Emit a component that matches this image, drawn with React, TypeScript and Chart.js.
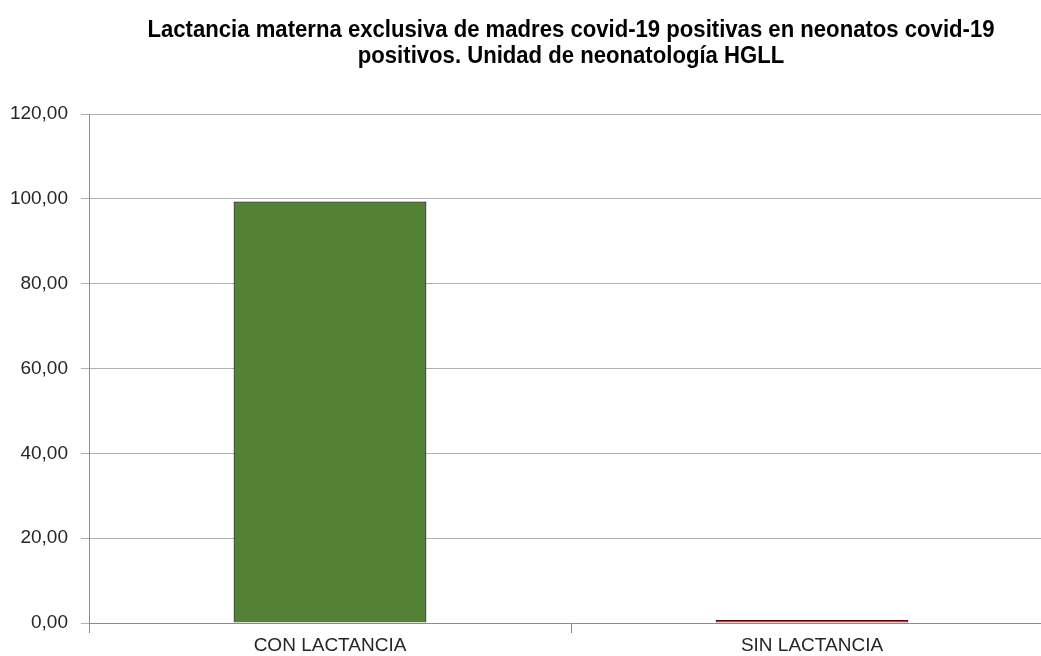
import React, { useEffect, useRef } from "react";
import { Chart, registerables } from "chart.js";

Chart.register(...registerables);

const categories = ["CON LACTANCIA", "SIN LACTANCIA"];
const values = [99.35, 0.7];
const barColors = ["#548235", "#ff0000"];
const titleLines = [
  "Lactancia materna exclusiva de madres covid-19 positivas en neonatos covid-19",
  "positivos. Unidad de neonatología HGLL",
];

const narrowTitle = {
  id: "narrowTitle",
  afterDraw(chart: any) {
    const { ctx, chartArea } = chart;
    const cx = (chartArea.left + chartArea.right) / 2;
    ctx.save();
    ctx.font = "bold 23px 'Liberation Sans', Arial, sans-serif";
    ctx.fillStyle = "#000000";
    ctx.textAlign = "center";
    ctx.textBaseline = "alphabetic";
    const w0 = ctx.measureText(titleLines[0]).width;
    const sx = 847 / w0;
    const baselines = [37, 63];
    titleLines.forEach((line, i) => {
      ctx.save();
      ctx.translate(cx, baselines[i]);
      ctx.scale(sx, 1);
      ctx.fillText(line, 0, 0);
      ctx.restore();
    });
    ctx.restore();
  },
};

export default function App() {
  const ref = useRef<HTMLCanvasElement>(null);
  useEffect(() => {
    document.body.style.margin = "0";
    document.body.style.overflow = "hidden";
    const chart = new Chart(ref.current!, {
      type: "bar",
      data: {
        labels: categories,
        datasets: [
          {
            data: values,
            backgroundColor: barColors,
            borderColor: "#1e1e1e",
            borderWidth: 1.2,
            borderSkipped: "start",
            barPercentage: 0.4,
            categoryPercentage: 1,
          },
        ],
      },
      options: {
        animation: false,
        responsive: false,
        layout: { padding: { left: 0, right: 0, top: 114, bottom: 0 } },
        plugins: {
          legend: { display: false },
          tooltip: { enabled: false },
          title: { display: false },
        },
        scales: {
          x: {
            grid: {
              display: true,
              drawOnChartArea: false,
              offset: true,
              tickLength: 10,
              color: "#8c8c8c",
            },
            border: { color: "#8c8c8c", width: 1 },
            ticks: {
              color: "#262626",
              font: { family: "'Liberation Sans', Arial", size: 19 },
              padding: 1,
            },
            afterFit: (s: any) => {
              s.height = 33;
            },
          },
          y: {
            min: 0,
            max: 120,
            ticks: {
              stepSize: 20,
              color: "#262626",
              font: { family: "'Liberation Sans', Arial", size: 19 },
              padding: 13,
              callback: (v: any) => Number(v).toFixed(2).replace(".", ","),
            },
            grid: { color: "#b0b0b0", tickLength: 8 },
            border: { color: "#8c8c8c", width: 1 },
            afterFit: (s: any) => {
              s.width = 89;
            },
          },
        },
      },
      plugins: [narrowTitle],
    });
    return () => chart.destroy();
  }, []);
  return (
    <div style={{ position: "absolute", left: 0, top: 0, width: 1053, height: 656 }}>
      <canvas ref={ref} width={1053} height={656} />
    </div>
  );
}
